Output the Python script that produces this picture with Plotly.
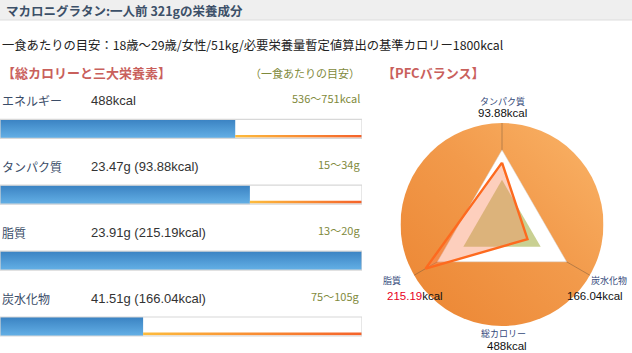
import base64
import plotly.graph_objects as go

W, H = 632, 353

# ---------------- data ----------------
title_text = "マカロニグラタン:一人前 321gの栄養成分"
subtitle_text = "一食あたりの目安：18歳〜29歳/女性/51kg/必要栄養量暫定値算出の基準カロリー1800kcal"
header_left = "【総カロリーと三大栄養素】"
header_mid = "（一食あたりの目安）"
header_right = "【PFCバランス】"

nutrients = ["エネルギー", "タンパク質", "脂質", "炭水化物"]
amount_values = [488, 23.47, 23.91, 41.51]
amount_texts = ["488kcal", "23.47g (93.88kcal)", "23.91g (215.19kcal)", "41.51g (166.04kcal)"]
range_lower = [536, 15, 13, 75]
range_upper = [751, 34, 20, 105]
range_units = ["kcal", "g", "g", "g"]

radar_axes = ["タンパク質", "炭水化物", "脂質"]
radar_actual = [61, 29, 87]        # scaled position on radar (0-100)
radar_ideal = [44, 44, 44]         # green target triangle
radar_frame = [73.5, 73.5, 73.5]   # white triangle
radar_kcal = ["93.88", "166.04", "215.19"]
radar_over = [False, False, True]
total_kcal = "488"

# ---------------- helpers ----------------
def px(x):
    return x / W

def py(y):
    return 1 - y / H

FONT = "Noto Sans CJK JP, Noto Sans, sans-serif"
LAT = "Liberation Sans, Arial, sans-serif"

fig = go.Figure()

# ---------------- bars ----------------
row_c0, row_step = 128.8, 65.9        # pixel centre of first row, spacing
bar_px = 19.0
hh = bar_px / row_step / 2
ydom_top_px = 95.0
yr_top = (ydom_top_px - row_c0) / row_step
yr_bot = (H - row_c0) / row_step

for i, (v, up) in enumerate(zip(amount_values, range_upper)):
    frac = min(v / up, 1.0)
    y0, y1 = i - hh, i + hh
    fig.add_trace(go.Scatter(x=[0, 1, 1, 0, 0], y=[y0, y0, y1, y1, y0], fill="toself",
                             fillcolor="white", line=dict(width=0), mode="lines",
                             hoverinfo="skip", showlegend=False, xaxis="x", yaxis="y"))
    fig.add_trace(go.Scatter(x=[0, frac, frac, 0, 0], y=[y0, y0, y1, y1, y0], fill="toself",
                             fillgradient=dict(type="vertical",
                                               colorscale=[[0, "#64b0e6"], [1, "#3a82c2"]]),
                             line=dict(width=0), mode="lines",
                             hoverinfo="skip", showlegend=False, xaxis="x", yaxis="y"))
    if frac < 1:
        s0 = y1 - 3.4 / row_step
        s1 = y1 - 0.8 / row_step
        fig.add_trace(go.Scatter(x=[frac, 1, 1, frac, frac], y=[s0, s0, s1, s1, s0], fill="toself",
                                 fillgradient=dict(type="horizontal",
                                                   colorscale=[[0, "#fdbb3c"], [1, "#f5622a"]]),
                                 line=dict(width=0), mode="lines",
                                 hoverinfo="skip", showlegend=False, xaxis="x", yaxis="y"))
    fig.add_trace(go.Scatter(x=[0, 1, 1, 0, 0], y=[y0, y0, y1, y1, y0],
                             line=dict(width=1.2, color="#d8d8d8"), mode="lines",
                             cliponaxis=False, hoverinfo="skip", showlegend=False,
                             xaxis="x", yaxis="y"))

# ---------------- radar ----------------
def closed(vals):
    return list(vals) + [vals[0]]

theta = closed(radar_axes)
fig.add_trace(go.Scatterpolar(r=closed(radar_frame), theta=theta, fill="toself",
                              fillcolor="white", line=dict(width=0.6, color="rgba(210,210,210,0.8)"),
                              mode="lines", hoverinfo="skip", showlegend=False))
fig.add_trace(go.Scatterpolar(r=closed(radar_ideal), theta=theta, fill="toself",
                              fillcolor="rgb(201,208,146)", line=dict(width=0),
                              mode="lines", hoverinfo="skip", showlegend=False))
fig.add_trace(go.Scatterpolar(r=closed(radar_actual), theta=theta, fill="toself",
                              fillcolor="rgba(250,135,90,0.40)", line=dict(width=2.4, color="#fd6a1f"),
                              mode="lines", hoverinfo="skip", showlegend=False))

svg = ("<svg xmlns='http://www.w3.org/2000/svg' width='200' height='200' viewBox='0 0 200 200'>"
       "<defs><linearGradient id='g' x1='0' y1='1' x2='1' y2='0'>"
       "<stop offset='0' stop-color='#eb8431'/><stop offset='0.55' stop-color='#f29a4b'/>"
       "<stop offset='1' stop-color='#fab468'/></linearGradient></defs>"
       "<circle cx='100' cy='100' r='100' fill='url(#g)'/></svg>")
svg_uri = "data:image/svg+xml;base64," + base64.b64encode(svg.encode()).decode()

cx, cy, rad = 502.0, 224.5, 101.5

layout_images = [dict(source=svg_uri, xref="paper", yref="paper",
                      x=px(cx - rad), y=py(cy - rad), sizex=2 * rad / W, sizey=2 * rad / H,
                      xanchor="left", yanchor="top", sizing="stretch", layer="below")]

# ---------------- annotations ----------------
ann = []

def note(x, y, text, anchor, size, color, family=FONT):
    ann.append(dict(x=px(x), y=py(y), xref="paper", yref="paper", text=text,
                    xanchor=anchor, yanchor="middle", showarrow=False,
                    font=dict(size=size, color=color, family=family)))

note(4, 10.5, f"<b>{title_text}</b>", "left", 12.5, "#3c5068")
note(0, 45, subtitle_text, "left", 12.3, "#222222")
note(0, 72.5, f"<b>{header_left}</b>", "left", 13, "#c9605c")
note(362, 72.5, header_mid, "right", 11, "#7f8a3c")
note(380, 72.5, f"<b>{header_right}</b>", "left", 13, "#c9605c")

for i, name in enumerate(nutrients):
    yc = row_c0 + row_step * i
    note(0, yc - 28, name, "left", 12, "#3b4d68")
    note(89, yc - 28, amount_texts[i], "left", 13, "#333333", LAT)
    note(362, yc - 30.5, f"{range_lower[i]}〜{range_upper[i]}{range_units[i]}", "right", 11, "#7f8a3c")

lab_pos = {"タンパク質": (502.5, 101, 502, 113),
           "脂質": (392, 280.5, 415.5, 296),
           "炭水化物": (609, 280.5, 595, 296)}
for name, kc, over in zip(radar_axes, radar_kcal, radar_over):
    lx, ly, vx, vy = lab_pos[name]
    note(lx, ly, name, "center", 9, "#34497a")
    col = "#e8001c" if over else "#111111"
    note(vx, vy, f"<span style='color:{col}'>{kc}</span>kcal", "center", 11.5, "#111111", LAT)
note(503.5, 333, "総カロリー", "center", 9, "#34497a")
note(506.5, 345.5, f"{total_kcal}kcal", "center", 11.5, "#111111", LAT)

shapes = [
    dict(type="rect", xref="paper", yref="paper", x0=0, x1=1, y0=py(20), y1=1,
         fillcolor="#efefef", line=dict(width=0), layer="below"),
    dict(type="line", xref="paper", yref="paper", x0=0, x1=1, y0=py(20), y1=py(20),
         line=dict(width=1, color="#dddddd"), layer="below"),
]

fig.update_layout(
    width=W, height=H, margin=dict(l=0, r=0, t=0, b=0),
    paper_bgcolor="white", plot_bgcolor="rgba(0,0,0,0)",
    xaxis=dict(domain=[0, px(362)], range=[0, 1], visible=False, fixedrange=True),
    yaxis=dict(domain=[0, py(ydom_top_px)], range=[yr_bot, yr_top], visible=False, fixedrange=True),
    polar=dict(
        domain=dict(x=[px(cx - rad), px(cx + rad)], y=[py(cy + rad), py(cy - rad)]),
        bgcolor="rgba(0,0,0,0)",
        radialaxis=dict(range=[0, 100], visible=False, showgrid=False),
        angularaxis=dict(rotation=90, direction="clockwise", showline=False,
                         showticklabels=False, ticks="", showgrid=True,
                         gridcolor="rgba(110,85,60,0.45)", gridwidth=1, layer="above traces"),
    ),
    images=layout_images,
    annotations=ann,
    shapes=shapes,
    showlegend=False,
)

fig.write_html("out.html")
